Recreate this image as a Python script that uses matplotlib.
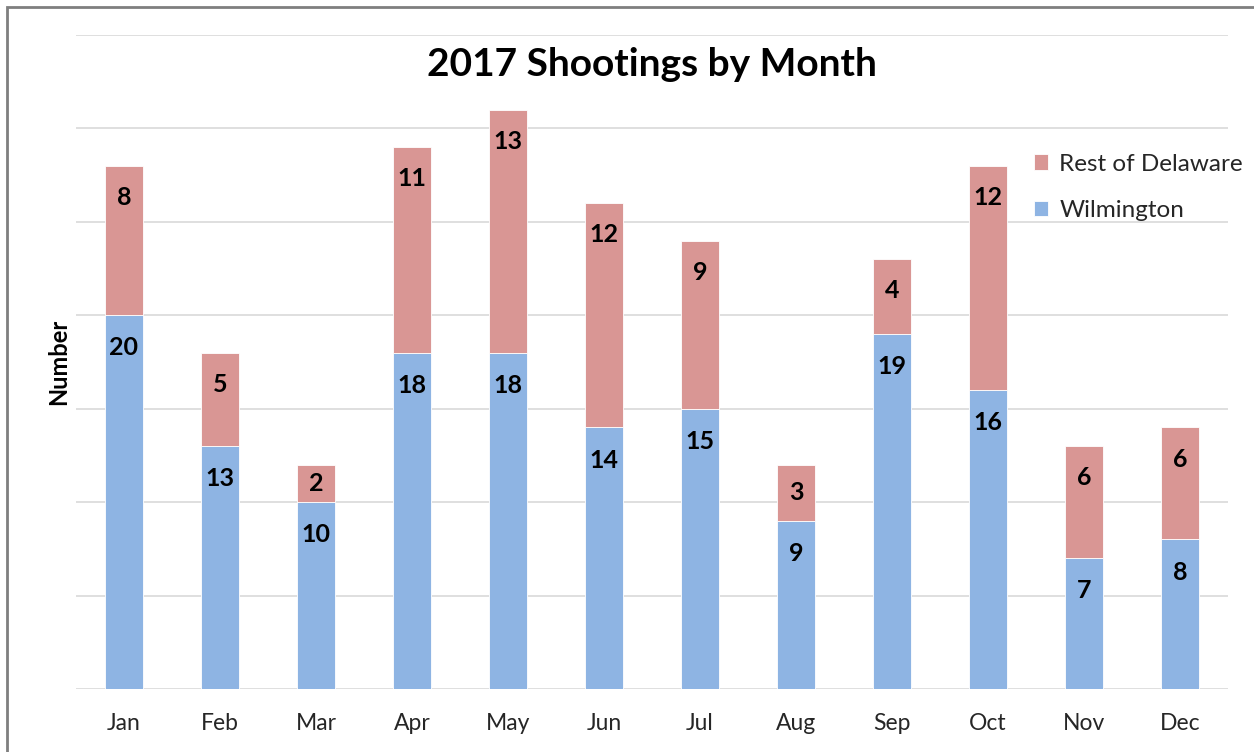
import matplotlib
matplotlib.use("Agg")
import matplotlib.pyplot as plt
from matplotlib.patches import Rectangle

months = ["Jan", "Feb", "Mar", "Apr", "May", "Jun", "Jul", "Aug", "Sep", "Oct", "Nov", "Dec"]
wilmington = [20, 13, 10, 18, 18, 14, 15, 9, 19, 16, 7, 8]
rest_of_delaware = [8, 5, 2, 11, 13, 12, 9, 3, 4, 12, 6, 6]

blue = "#8EB4E3"
red = "#D99694"
grid_color = "#D9D9D9"

plt.rcParams["font.family"] = ["Lato", "DejaVu Sans"]

fig = plt.figure(figsize=(12.54, 7.52), dpi=100)
ax = fig.add_axes([0.0606, 0.0838, 0.9187, 0.8697])

x = range(len(months))
bw = 0.4
b1 = ax.bar(x, wilmington, width=bw, color=blue, edgecolor="white", linewidth=0.6,
            label="Wilmington", zorder=3)
b2 = ax.bar(x, rest_of_delaware, width=bw, bottom=wilmington, color=red,
            edgecolor="white", linewidth=0.6, label="Rest of Delaware", zorder=3)

ax.set_xlim(-0.5, len(months) - 0.5)
ax.set_ylim(0, 35)
ax.set_yticks(range(0, 36, 5))
ax.yaxis.grid(True, color=grid_color, linewidth=1.2, zorder=0)
ax.set_axisbelow(True)
for s in ax.spines.values():
    s.set_visible(False)
ax.tick_params(axis="y", left=False, labelleft=False)
ax.tick_params(axis="x", bottom=False, pad=14, labelsize=16.5, labelcolor="#262626")
ax.set_xticks(list(x))
ax.set_xticklabels(months)

# value labels, placed just inside the top of each segment
for i in x:
    w = wilmington[i]
    r = rest_of_delaware[i]
    ax.text(i, w - min(1.75, w / 2), str(w), ha="center", va="center",
            fontsize=18, fontweight="bold", color="black", zorder=4)
    top = w + r
    ax.text(i, top - min(1.7, r / 2), str(r), ha="center", va="center",
            fontsize=18, fontweight="bold", color="black", zorder=4)

ax.text(0.5, 0.955, "2017 Shootings by Month", transform=ax.transAxes,
        ha="center", va="center", fontsize=28, fontweight="bold", color="black")

ax.set_ylabel("Number", fontsize=17, fontweight="bold", labelpad=4)

leg = ax.legend(handles=[b2, b1], loc="upper left", bbox_to_anchor=(0.8165, 0.8085),
                bbox_transform=fig.transFigure, frameon=False, fontsize=17.5,
                handlelength=0.6, handleheight=0.6, handletextpad=0.45,
                labelspacing=1.05, borderaxespad=0)
for t in leg.get_texts():
    t.set_color("#262626")

# outer frame of the chart area
fig.patches.append(Rectangle((7 / 1254, -0.05), 1.2, 1 - 7 / 752 + 0.05,
                             transform=fig.transFigure, fill=False,
                             edgecolor="#7F7F7F", linewidth=2, zorder=10))

fig.savefig("out.png", dpi=100)
